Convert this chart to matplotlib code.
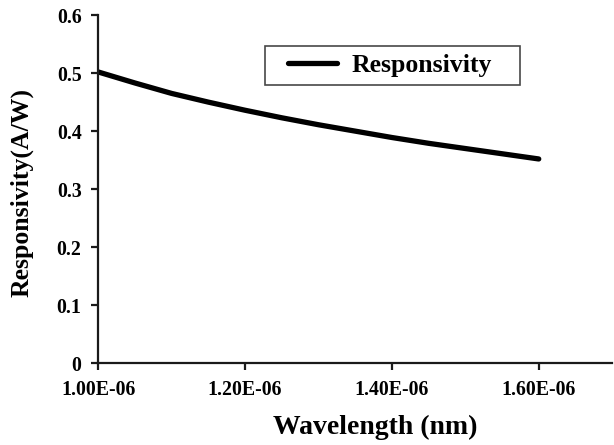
import matplotlib
matplotlib.use("Agg")
import matplotlib.pyplot as plt
from matplotlib.legend_handler import HandlerLine2D
from matplotlib.ticker import FuncFormatter, MultipleLocator

# wavelength (m) and responsivity (A/W)
wavelength = [1.00e-06, 1.05e-06, 1.10e-06, 1.15e-06, 1.20e-06, 1.25e-06, 1.30e-06,
              1.35e-06, 1.40e-06, 1.45e-06, 1.50e-06, 1.55e-06, 1.60e-06]
responsivity = [0.502, 0.483, 0.465, 0.450, 0.436, 0.423, 0.411,
                0.400, 0.389, 0.379, 0.370, 0.361, 0.352]

plt.rcParams['font.family'] = ['Liberation Serif', 'DejaVu Serif']
plt.rcParams['font.weight'] = 'bold'

fig = plt.figure(figsize=(6.14, 4.45), dpi=100)
ax = fig.add_axes([0.16, 0.184, 0.837, 0.782])

line, = ax.plot(wavelength, responsivity, color='black', lw=3.8,
                solid_capstyle='round', label='Responsivity')

ax.set_xlim(1.0e-06, 1.7e-06)
ax.set_ylim(0, 0.6)
ax.xaxis.set_major_locator(MultipleLocator(2e-07))
ax.yaxis.set_major_locator(MultipleLocator(0.1))
ax.xaxis.set_major_formatter(FuncFormatter(lambda v, p: f"{v:.2E}" if v < 1.65e-06 else ""))
ax.yaxis.set_major_formatter(FuncFormatter(lambda v, p: "0" if abs(v) < 1e-9 else f"{v:.1f}"))

for s in ['top', 'right']:
    ax.spines[s].set_visible(False)
for s in ['left', 'bottom']:
    ax.spines[s].set_linewidth(1.6)
    ax.spines[s].set_color('#1a1a1a')

ax.tick_params(axis='both', direction='out', length=5, width=1.6, color='#1a1a1a',
               labelsize=14.3, pad=7)
for lab in ax.get_xticklabels() + ax.get_yticklabels():
    lab.set_fontweight('bold')

ax.set_xlabel('Wavelength (nm)', fontsize=20, fontweight='bold')
ax.set_ylabel('Responsivity(A/W)', fontsize=18.5, fontweight='bold')
ax.xaxis.set_label_coords(0.539, -0.148)
ax.yaxis.set_label_coords(-0.126, 0.49)

# fixed-width legend box, handle inset from the left edge
leg = ax.legend(loc='upper left', bbox_to_anchor=(0.325, 0.80, 0.496, 0.111),
                mode='expand', fontsize=18.5, frameon=True, fancybox=False,
                edgecolor='#1a1a1a', handlelength=2.5, handletextpad=0.55,
                borderpad=0.3, borderaxespad=0,
                handler_map={line: HandlerLine2D(xpad=0.6)})
leg.get_frame().set_linewidth(1.2)
for t in leg.get_texts():
    t.set_fontweight('bold')

fig.savefig('out.png', dpi=100, facecolor='white')
